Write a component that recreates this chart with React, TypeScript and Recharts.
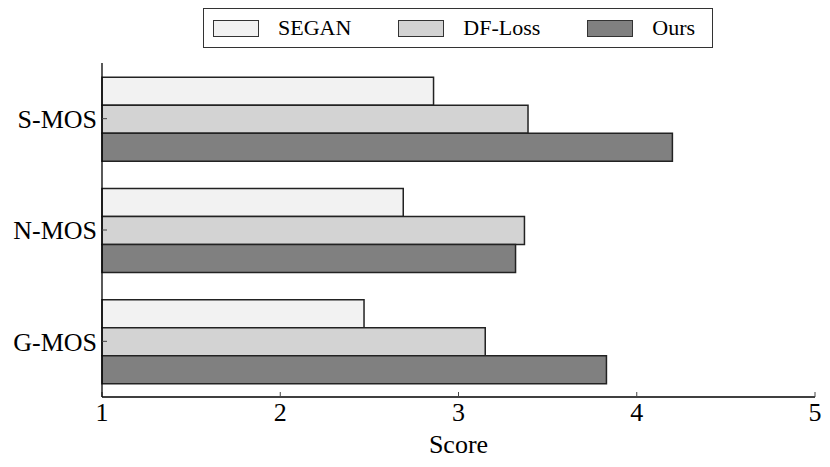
import React from "react";
import {
  BarChart,
  Bar,
  XAxis,
  YAxis,
  Legend,
} from "recharts";

// values
const categories = ["S-MOS", "N-MOS", "G-MOS"];
const seganScores = [2.86, 2.69, 2.47];
const dfLossScores = [3.39, 3.37, 3.15];
const oursScores = [4.2, 3.32, 3.83];
const xTicks = [1, 2, 3, 4, 5];

const SERIES = [
  { key: "segan", name: "SEGAN", color: "#f2f2f2" },
  { key: "dfLoss", name: "DF-Loss", color: "#d3d3d3" },
  { key: "ours", name: "Ours", color: "#808080" },
];

const data = categories.map((name, i) => ({
  name,
  segan: seganScores[i],
  dfLoss: dfLossScores[i],
  ours: oursScores[i],
}));

const FONT = "Liberation Serif, Tinos, Times, DejaVu Serif, serif";
const AXIS = { stroke: "#000", strokeWidth: 1.3 };
const TICK = { stroke: "#444", strokeWidth: 1 };

const LegendBox = () => (
  <div
    style={{
      display: "flex",
      alignItems: "center",
      boxSizing: "border-box",
      height: 40,
      border: "1.3px solid #333",
      paddingLeft: 9,
      fontFamily: FONT,
      fontSize: 22,
      color: "#000",
      background: "#fff",
    }}
  >
    {SERIES.map((s, i) => (
      <div
        key={s.key}
        style={{ display: "flex", alignItems: "center", marginLeft: i === 0 ? 0 : 47 }}
      >
        <span
          style={{
            display: "inline-block",
            boxSizing: "border-box",
            width: 46,
            height: 17,
            background: s.color,
            border: "1.3px solid #333",
            marginRight: 19,
          }}
        />
        <span>{s.name}</span>
      </div>
    ))}
  </div>
);

export default function App() {
  return (
    <div style={{ position: "absolute", left: 0, top: 0, fontFamily: FONT }}>
      <BarChart
        width={830}
        height={467}
        data={data}
        layout="vertical"
        margin={{ top: 63, right: 15, left: 0, bottom: 0 }}
        barCategoryGap="12.7%"
        barGap={0}
        style={{ fontFamily: FONT }}
      >
        <XAxis
          xAxisId="main"
          type="number"
          domain={[1, 5]}
          ticks={xTicks}
          height={70}
          axisLine={AXIS}
          tickLine={TICK}
          tickSize={-5}
          tickMargin={11}
          tick={{ fontSize: 26, fill: "#000", fontFamily: FONT }}
          label={{
            value: "Score",
            position: "insideBottom",
            offset: 14,
            fontSize: 26,
            fill: "#000",
            fontFamily: FONT,
          }}
        />
        <XAxis
          xAxisId="top"
          orientation="top"
          type="number"
          domain={[1, 5]}
          ticks={xTicks}
          height={0}
          mirror
          axisLine={AXIS}
          tickLine={TICK}
          tickSize={5}
          tick={false}
        />
        <YAxis
          yAxisId="main"
          type="category"
          dataKey="name"
          width={102}
          interval={0}
          axisLine={AXIS}
          tickLine={TICK}
          tickSize={-5}
          tickMargin={10}
          tick={{ fontSize: 26, fill: "#000", fontFamily: FONT }}
        />
        <YAxis
          yAxisId="right"
          orientation="right"
          type="category"
          dataKey="name"
          width={0}
          mirror
          interval={0}
          axisLine={AXIS}
          tickLine={TICK}
          tickSize={5}
          tick={false}
        />
        <Legend
          content={<LegendBox />}
          layout="horizontal"
          verticalAlign="middle"
          align="center"
          wrapperStyle={{ top: 8, left: 203, width: 510, height: 40 }}
        />
        {SERIES.map((s) => (
          <Bar
            key={s.key}
            xAxisId="main"
            yAxisId="main"
            dataKey={s.key}
            name={s.name}
            fill={s.color}
            stroke="#222"
            strokeWidth={1.5}
            isAnimationActive={false}
          />
        ))}
      </BarChart>
    </div>
  );
}
